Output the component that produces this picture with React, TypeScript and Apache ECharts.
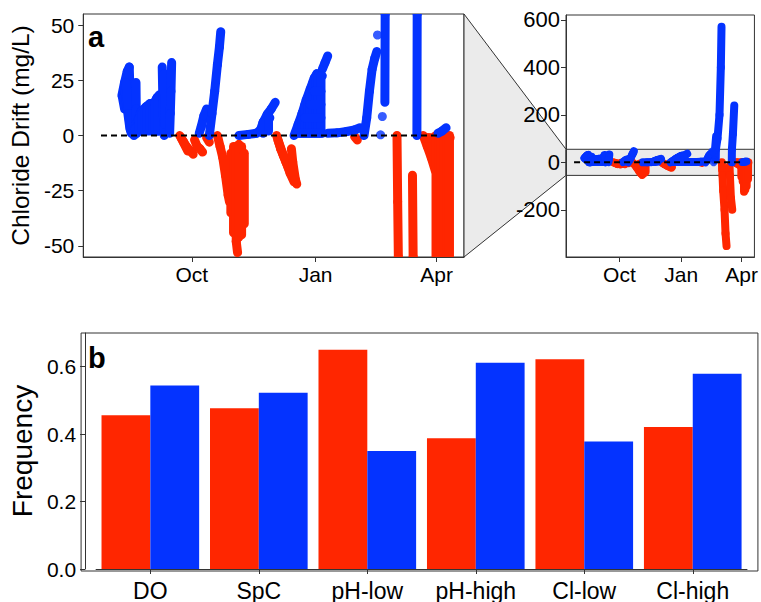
import React, { useEffect, useRef } from 'react';
import * as echarts from 'echarts';

const FONT = '"Liberation Sans", Arial, Helvetica, sans-serif';
const RED = '#FF2600';
const BLUE = '#0433FF';
const FRAME = '#333333';
const BAND = '#EBEBEB';

// x values are days since 1 October
const tickDays = [0, 92, 182];
const tickMonths = ['Oct', 'Jan', 'Apr'];
const zoomTicks = [-50, -25, 0, 25, 50];
const fullTicks = [-200, 0, 200, 400, 600];
const zoomRange = [-55, 55];
const fullRange = [-399, 621];
const zoomDays = [-80.7, 202.3];
const fullDays = [-79.5, 201];
const zeroLine = [[-67.5, 0], [183, 0]];

// negative drift streaks (days, mg/L)
const redStreaks: number[][][] = [
  [[-9, 0], [-6, -3], [-4, -5], [-1, -7], [1, -8.5]],
  [[-8, -1], [-3, -7]],
  [[2, -2], [4, -5], [6, -6], [8, -7.5]],
  [[11, -1], [13, -3]],
  [[19, 0], [21, -5], [23, -10], [25, -18], [27, -27], [28, -30]],
  [[29, -8], [29, -35]],
  [[31, -5], [31, -44]],
  [[33, -5], [33, -48], [34, -53]],
  [[35, -4], [35, -46]],
  [[37, -5], [37, -45]],
  [[39, -8], [39, -40]],
  [[63, 0], [66, -6], [70, -12], [73, -17], [76, -21]],
  [[64, -2], [68, -9], [72, -15]],
  [[74, -6], [75, -12], [77, -20], [78, -22]],
  [[121, -0.5], [123, -2]],
  [[152.5, 0], [153, -30], [153.5, -55], [154.5, -120], [156.5, -200], [158, -300], [159.5, -353]],
  [[164, -18], [164.5, -55], [166, -150], [168, -200]],
  [[172, 0], [175, -5], [178, -10], [181, -16]],
  [[173, -1], [181, -3]],
  [[176, -1], [180, -8]],
  [[174, -1], [192, -1]],
  [[181.5, 0], [181.5, -60]],
  [[183.5, 0], [183.5, -80]],
  [[185.5, 0], [185.5, -124]],
  [[187.5, 0], [187.5, -115]],
  [[189.5, 0], [189.5, -100]],
  [[191.5, 0], [191.5, -70]],
];

// positive drift streaks (days, mg/L)
const blueStreaks: number[][][] = [
  [[-52, 18], [-50, 24], [-48, 29], [-46.5, 31], [-46, 20], [-45.5, 8], [-45, 1]],
  [[-51.5, 17], [-50, 12]],
  [[-50, 22], [-48, 12], [-46, 3]],
  [[-49, 24], [-47, 10], [-45.5, 2]],
  [[-41.5, 24], [-41.3, 12], [-41, 1]],
  [[-44, 1], [-40, 7], [-37.5, 11], [-34, 13], [-31, 14.5], [-29, 12], [-26, 17], [-24, 18.5]],
  [[-43, 0], [-38, 3], [-33, 4], [-28, 3], [-25, 2]],
  [[-42, 3], [-36, 7], [-31, 9], [-27, 8], [-24, 6]],
  [[-39, 8], [-39, 2]],
  [[-37, 10], [-37, 2]],
  [[-35, 12], [-35, 2]],
  [[-33, 13], [-33, 2]],
  [[-31, 14], [-31, 2]],
  [[-29, 12], [-29, 2]],
  [[-27, 16], [-27, 2]],
  [[-25, 17], [-25, 2]],
  [[-22, 31], [-21.5, 15], [-20.5, 0]],
  [[-20.5, 28], [-20, 5]],
  [[-15, 33], [-15.5, 20], [-16, 10], [-16.5, 1]],
  [[5.5, 1], [7, 4], [9, 9], [11, 12]],
  [[13, 0], [15, 10], [17, 20], [19, 32], [20.5, 40], [21.5, 47]],
  [[35, 0], [42, 0.5], [48, 1], [51, 2.5], [53, 6], [56, 9.5], [59, 12], [62, 15]],
  [[51, 2], [58, 8]],
  [[53, 6], [53, 1]],
  [[57, 10], [57, 2]],
  [[76, 0], [79, 5], [82, 10], [85, 16], [88, 21], [91, 26], [93, 28], [95, 27], [97, 27]],
  [[97, 30], [99, 33], [101, 36]],
  [[80, 6], [80, 1]],
  [[82, 10], [82, 1]],
  [[84, 14], [84, 1]],
  [[86, 17], [86, 1]],
  [[88, 20], [88, 1]],
  [[90, 24], [90, 1]],
  [[92, 26], [92, 1]],
  [[94, 27], [94, 1]],
  [[96, 27], [96, 1]],
  [[78, 1], [97, 1]],
  [[84, 8], [96, 8]],
  [[88, 14], [96, 14]],
  [[91, 20], [96, 20]],
  [[101, 1], [108, 1.2], [115, 1.8], [121, 2.5], [125, 3.5]],
  [[128, 0], [130, 8], [132, 20], [134, 30], [136, 35], [137.5, 38]],
  [[143.5, 15], [143.7, 55], [146, 100], [149, 200], [151, 400], [152, 571]],
  [[142.5, 60], [144, 110]],
  [[167.3, 0], [167.5, 55], [169, 120], [171, 240]],
  [[183, 1], [186, 2], [189, 3.5]],
];

const blueDots = [[138, 45.5], [141.6, 8.6], [140.3, 0.3]];

const categories = ['DO', 'SpC', 'pH-low', 'pH-high', 'Cl-low', 'Cl-high'];
const redFreq = [0.456, 0.477, 0.65, 0.388, 0.622, 0.421];
const blueFreq = [0.544, 0.523, 0.35, 0.612, 0.378, 0.579];
const freqTicks = [0, 0.2, 0.4, 0.6];

const GA = { left: 79, top: 14, width: 385, height: 243 };
const GF = { left: 566, top: 15, width: 191, height: 242 };
const GB = { left: 92, top: 333, width: 655, height: 238 };

const toSegments = (streaks: number[][][]) =>
  streaks.flatMap((s) => s.slice(1).map((p, i) => [s[i][0], s[i][1], p[0], p[1]]));

const streakSeries = (gi: number, streaks: number[][][], color: string, width: number, z: number) => ({
  type: 'custom',
  coordinateSystem: 'cartesian2d',
  xAxisIndex: gi,
  yAxisIndex: gi,
  data: toSegments(streaks),
  clip: true,
  silent: true,
  z,
  encode: { x: [0, 2], y: [1, 3] },
  renderItem: (_p: any, api: any) => {
    const a = api.coord([api.value(0), api.value(1)]);
    const b = api.coord([api.value(2), api.value(3)]);
    return {
      type: 'line',
      shape: { x1: a[0], y1: a[1], x2: b[0], y2: b[1] },
      style: { stroke: color, lineWidth: width, lineCap: 'round' },
    };
  },
});

const monthLabel = (v: number) => {
  const i = tickDays.indexOf(v);
  return i >= 0 ? tickMonths[i] : '';
};

const timeAxis = (gi: number, range: number[], size: number) => ({
  gridIndex: gi,
  type: 'value',
  min: range[0],
  max: range[1],
  axisLine: { show: true, onZero: false, lineStyle: { color: FRAME, width: 1 } },
  axisTick: { show: true, customValues: tickDays, length: 5, lineStyle: { color: FRAME } },
  axisLabel: { customValues: tickDays, formatter: monthLabel, fontSize: size, color: '#000', margin: 7, fontFamily: FONT },
  splitLine: { show: false },
});

export default function App() {
  const ref = useRef<HTMLDivElement>(null);
  useEffect(() => {
    const chart = echarts.init(ref.current!, null, { renderer: 'svg' });
    const series: any[] = [];
    [0, 1].forEach((gi) => {
      const w = gi === 0 ? 9 : 8;
      series.push(streakSeries(gi, redStreaks, RED, w, 2));
      series.push(streakSeries(gi, blueStreaks, BLUE, w, 3));
      series.push({
        type: 'scatter', xAxisIndex: gi, yAxisIndex: gi, data: blueDots, symbolSize: w,
        itemStyle: { color: BLUE }, silent: true, z: 3,
      });
      series.push({
        type: 'line', xAxisIndex: gi, yAxisIndex: gi, data: zeroLine, symbol: 'none', silent: true, z: 10,
        lineStyle: { color: '#000', width: 2, type: [6, 4] },
      });
    });
    series.push({
      type: 'bar', xAxisIndex: 2, yAxisIndex: 2, data: redFreq, itemStyle: { color: RED },
      barGap: '0%', barCategoryGap: '10%', silent: true,
    });
    series.push({
      type: 'bar', xAxisIndex: 2, yAxisIndex: 2, data: blueFreq, itemStyle: { color: BLUE },
      barGap: '0%', barCategoryGap: '10%', silent: true,
    });

    chart.setOption({
      animation: false,
      backgroundColor: '#fff',
      textStyle: { fontFamily: FONT },
      grid: [
        { ...GA, show: true, borderColor: FRAME, borderWidth: 1 },
        { ...GF, show: true, borderColor: FRAME, borderWidth: 1 },
        { ...GB },
      ],
      xAxis: [
        timeAxis(0, zoomDays, 21),
        timeAxis(1, fullDays, 21),
        {
          gridIndex: 2, type: 'category', data: categories,
          axisLine: { show: true, onZero: false, lineStyle: { color: FRAME } },
          axisTick: { show: true, alignWithLabel: true, length: 5, lineStyle: { color: FRAME } },
          axisLabel: { fontSize: 23, color: '#000', margin: 10, fontFamily: FONT },
        },
      ],
      yAxis: [
        {
          gridIndex: 0, type: 'value', min: zoomRange[0], max: zoomRange[1],
          name: 'Chloride Drift (mg/L)', nameLocation: 'middle', nameGap: 46,
          nameTextStyle: { fontSize: 24.5, color: '#000', fontFamily: FONT },
          axisLine: { show: true, onZero: false, lineStyle: { color: FRAME } },
          axisTick: { show: true, customValues: zoomTicks, length: 5, lineStyle: { color: FRAME } },
          axisLabel: { customValues: zoomTicks, fontSize: 21, color: '#000', margin: 9, fontFamily: FONT },
          splitLine: { show: false },
        },
        {
          gridIndex: 1, type: 'value', min: fullRange[0], max: fullRange[1], z: 5,
          axisLine: { show: true, onZero: false, lineStyle: { color: FRAME } },
          axisTick: { show: true, customValues: fullTicks, length: 5, lineStyle: { color: FRAME } },
          axisLabel: { customValues: fullTicks, fontSize: 22, color: '#000', margin: 6, fontFamily: FONT },
          splitLine: { show: false },
        },
        {
          gridIndex: 2, type: 'value', min: 0, max: 0.7, offset: 11,
          name: 'Frequency', nameLocation: 'middle', nameGap: 46,
          nameTextStyle: { fontSize: 28, color: '#000', fontFamily: FONT },
          axisLine: { show: true, onZero: false, lineStyle: { color: FRAME } },
          axisTick: { show: true, customValues: freqTicks, length: 5, lineStyle: { color: FRAME } },
          axisLabel: {
            customValues: freqTicks, fontSize: 21, color: '#000', margin: 9, fontFamily: FONT,
            formatter: (v: number) => v.toFixed(1),
          },
          splitLine: { show: false },
        },
      ],
      series,
    });

    const P = (gi: number, x: number, y: number) =>
      chart.convertToPixel({ gridIndex: gi } as any, [x, y]) as number[];
    const aTR = P(0, zoomDays[1], zoomRange[1]);
    const aBR = P(0, zoomDays[1], zoomRange[0]);
    const fTL = P(1, fullDays[0], zoomRange[1]);
    const fBR = P(1, fullDays[1], zoomRange[0]);
    const unit = GB.width / categories.length;
    const bx = GB.left - 0.1 * unit;

    chart.setOption({
      graphic: [
        {
          type: 'polygon', silent: true, z: 1,
          shape: { points: [aTR, [fTL[0], fTL[1]], [fTL[0], fBR[1]], aBR] },
          style: { fill: BAND, stroke: FRAME, lineWidth: 1 },
        },
        {
          type: 'rect', silent: true, z: 1,
          shape: { x: fTL[0], y: fTL[1], width: fBR[0] - fTL[0], height: fBR[1] - fTL[1] },
          style: { fill: BAND, stroke: FRAME, lineWidth: 1 },
        },
        {
          type: 'rect', silent: true, z: 20,
          shape: { x: bx, y: GB.top, width: unit * 6.2, height: GB.height },
          style: { fill: 'none', stroke: FRAME, lineWidth: 1 },
        },
        {
          type: 'text', silent: true, z: 20, x: 88, y: 36.5,
          style: { text: 'a', font: `bold 29px ${FONT}`, fill: '#000', verticalAlign: 'middle' },
        },
        {
          type: 'text', silent: true, z: 20, x: 88, y: 358,
          style: { text: 'b', font: `bold 29px ${FONT}`, fill: '#000', verticalAlign: 'middle' },
        },
      ],
    });
    return () => chart.dispose();
  }, []);
  return <div ref={ref} style={{ position: 'fixed', left: 0, top: 0, width: 761, height: 602 }} />;
}
